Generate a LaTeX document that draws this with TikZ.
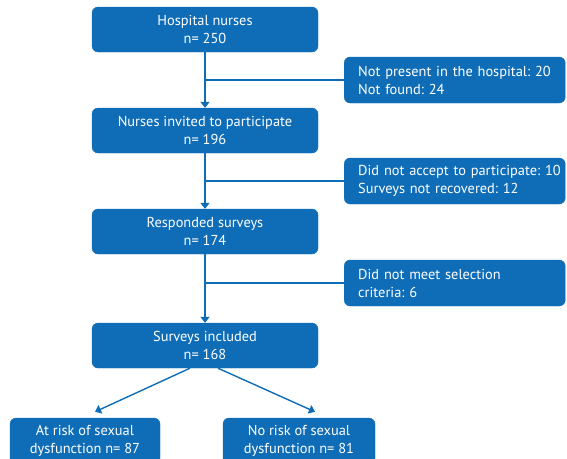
\documentclass[tikz,border=0pt]{standalone}
\usepackage{fontspec}
\setmainfont{PT Sans}
\usetikzlibrary{arrows.meta}
\definecolor{flowblue}{RGB}{15,109,183}
\frenchspacing
\begin{document}
\begin{tikzpicture}[x=1pt,y=-1pt,
    box/.style={draw=flowblue, fill=flowblue, rounded corners=6pt, text=white,
      font=\fontsize{14.4}{18}\selectfont, inner sep=0pt},
    mainbox/.style={box, minimum width=226pt, minimum height=45pt, align=center},
    sidebox/.style={box, anchor=west, minimum width=221pt, minimum height=46pt,
      text width=193pt, inner xsep=14pt, align=left},
    endbox/.style={box, minimum height=46pt, align=center},
    link/.style={flowblue, line width=1.4pt},
    flow/.style={link, -{Triangle[length=6pt,width=9pt]}}]
    \useasboundingbox (0,0) rectangle (567,458);

    \node[mainbox] (nurses) at (205,29.5) {Hospital nurses\\n= 250};
    \node[mainbox] (invited) at (205,130.5) {Nurses invited to participate\\n= 196};
    \node[mainbox] (responded) at (205,231.5) {Responded surveys\\n= 174};
    \node[mainbox] (included) at (205,345.5) {Surveys included\\n= 168};

    \node[sidebox] (absent) at (344,80) {Not present in the hospital: 20\\Not found: 24};
    \node[sidebox] (declined) at (344,181) {\mbox{Did not accept to participate: 10}\\Surveys not recovered: 12};
    \node[sidebox] (excluded) at (344,283) {Did not meet selection\\criteria: 6};

    \node[endbox, minimum width=150pt] (atrisk) at (85,441) {At risk of sexual\\dysfunction n= 87};
    \node[endbox, minimum width=152pt] (norisk) at (299,441) {No risk of sexual\\dysfunction n= 81};

    \draw[flow] (nurses) -- (invited);
    \draw[flow] (invited) -- (responded);
    \draw[flow] (responded) -- (included);
    \draw[link] (nurses.south |- absent.west) -- (absent.west);
    \draw[link] (invited.south |- declined.west) -- (declined.west);
    \draw[link] (responded.south |- excluded.west) -- (excluded.west);

    \draw[flow] ([xshift=-15pt]included.south) -- ([xshift=10pt,yshift=6pt]atrisk.north);
    \draw[flow] ([xshift=13pt]included.south) -- ([xshift=16pt,yshift=6pt]norisk.north);
  \end{tikzpicture}
\end{document}
